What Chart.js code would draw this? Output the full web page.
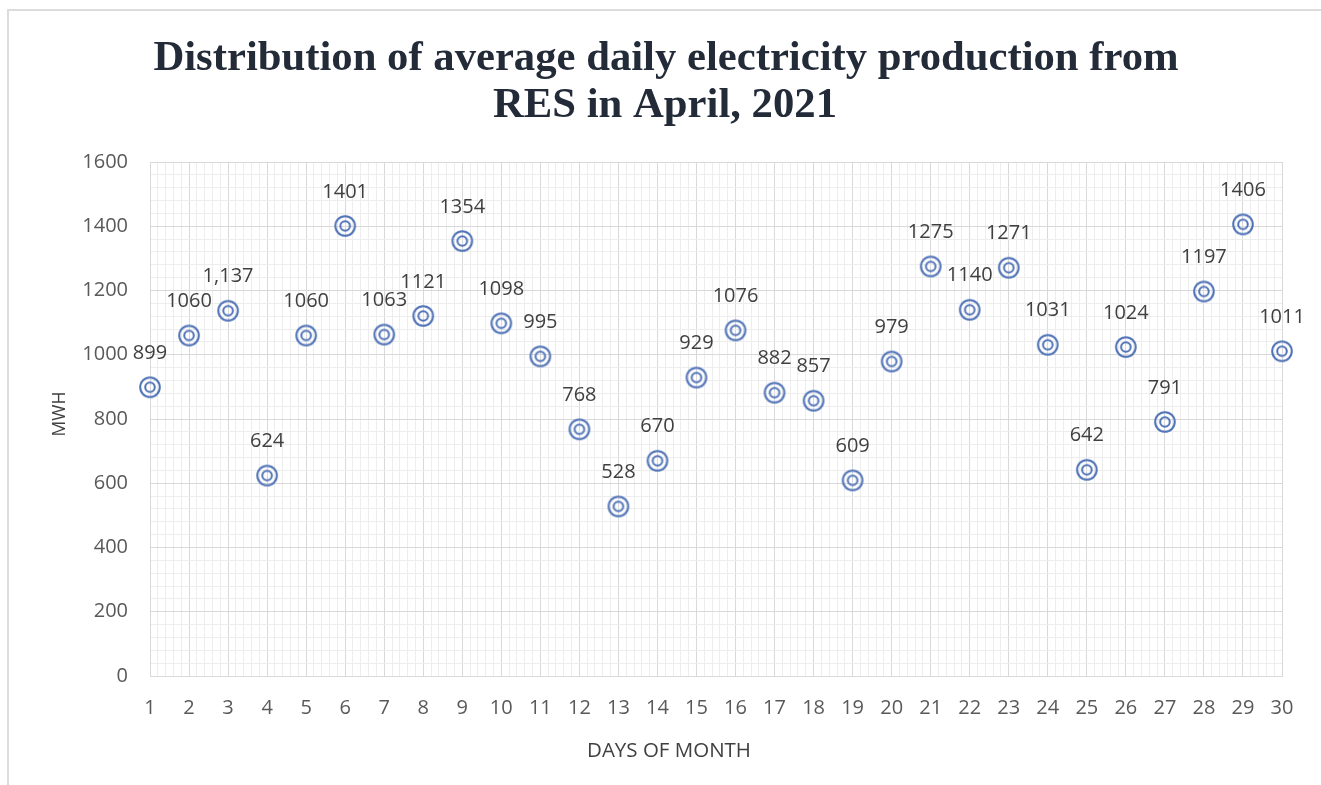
<!DOCTYPE html>
<html>
<head>
<meta charset="utf-8">
<script src="https://cdn.jsdelivr.net/npm/chart.js@4"></script>
<style>
  html,body{margin:0;padding:0;background:#fff;overflow:hidden;}
  #frame{position:absolute;left:7px;top:9px;width:1400px;height:900px;border-left:2px solid #dcdcdc;border-top:2px solid #dcdcdc;}
  #chart{position:absolute;left:0;top:0;}
</style>
</head>
<body>
<div id="frame"></div>
<canvas id="chart" width="1321" height="785"></canvas>
<script>
// Data
const days=[1,2,3,4,5,6,7,8,9,10,11,12,13,14,15,16,17,18,19,20,21,22,23,24,25,26,27,28,29,30];
const mwh=[899,1060,1137,624,1060,1401,1063,1121,1354,1098,995,768,528,670,929,1076,882,857,609,979,1275,1140,1271,1031,642,1024,791,1197,1406,1011];
const valueLabels=['899','1060','1,137','624','1060','1401','1063','1121','1354','1098','995','768','528','670','929','1076','882','857','609','979','1275','1140','1271','1031','642','1024','791','1197','1406','1011'];
const titleLines=['Distribution of average daily electricity production from','RES in April, 2021'];
const xTitle='DAYS OF MONTH';
const yTitle='MWH';

const BLUE='#4f72b6';
const MAJOR='#d9d9d9';
const MINOR='#ededed';

// double circle marker
function makeMarker(){
  const c=document.createElement('canvas');
  c.width=26;c.height=26;
  const g=c.getContext('2d');
  g.strokeStyle=BLUE;g.lineWidth=2;
  g.beginPath();g.arc(13,13,9.8,0,Math.PI*2);g.stroke();
  g.beginPath();g.arc(13,13,4.8,0,Math.PI*2);g.stroke();
  return c;
}

const isInt=v=>Math.abs(v-Math.round(v))<1e-6;

// title, axis titles + data labels
const textPlugin={
  id:'textPlugin',
  afterDatasetsDraw(chart){
    const ctx=chart.ctx;
    const meta=chart.getDatasetMeta(0);
    ctx.save();
    ctx.font='20px "Open Sans"';
    ctx.fillStyle='#404040';
    ctx.textAlign='center';
    ctx.textBaseline='middle';
    meta.data.forEach((pt,i)=>{
      ctx.fillText(valueLabels[i],pt.x,pt.y-34);
    });
    ctx.font='bold 42.7px "Liberation Serif"';
    ctx.fillStyle='#232b38';
    ctx.fillText(titleLines[0],666,59);
    ctx.fillText(titleLines[1],665,106);
    ctx.fillStyle='#404040';
    ctx.font='20.5px "Open Sans"';
    ctx.fillText(xTitle,669,751);
    ctx.translate(60,414);
    ctx.rotate(-Math.PI/2);
    ctx.font='17.5px "Open Sans"';
    ctx.fillText(yTitle,0,0);
    ctx.restore();
  }
};

new Chart(document.getElementById('chart'),{
  type:'scatter',
  data:{
    datasets:[{
      data:days.map((d,i)=>({x:d,y:mwh[i]})),
      pointStyle:makeMarker(),
      pointRadius:10,
      pointHoverRadius:10,
      clip:false
    }]
  },
  options:{
    responsive:false,
    animation:false,
    layout:{padding:{top:162,right:39,bottom:0,left:0}},
    plugins:{legend:{display:false},tooltip:{enabled:false}},
    scales:{
      x:{
        type:'linear',min:1,max:30,
        afterFit:s=>{s.height=109;},
        ticks:{stepSize:0.2,autoSkip:false,maxRotation:0,padding:20,color:'#595959',font:{family:'Open Sans',size:20},
          callback:v=>isInt(v)?String(Math.round(v)):''},
        grid:{drawTicks:false,color:c=>isInt(c.tick.value)?MAJOR:MINOR,lineWidth:1},
        border:{color:MAJOR}
      },
      y:{
        min:0,max:1600,
        afterFit:s=>{s.width=150;},
        ticks:{stepSize:40,autoSkip:false,padding:22,color:'#595959',font:{family:'Open Sans',size:20},
          callback:v=>v%200===0?String(v):''},
        grid:{drawTicks:false,color:c=>c.tick.value%200===0?MAJOR:MINOR,lineWidth:1},
        border:{color:MAJOR}
      }
    }
  },
  plugins:[textPlugin]
});
</script>
</body>
</html>
